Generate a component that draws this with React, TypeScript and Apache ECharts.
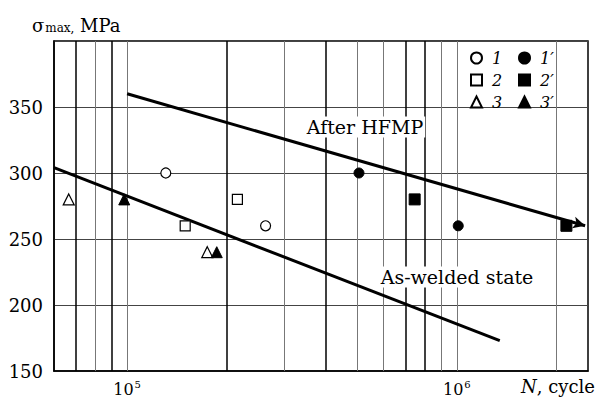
import React, { useEffect, useRef } from "react";
import * as echarts from "echarts";

const FONT = "DejaVu Serif";

// Vertical gridlines (cycles) and their weight (true = heavy black)
const gridCycles = [70000, 80000, 90000, 100000, 200000, 300000, 400000, 500000, 600000, 700000, 800000, 900000, 1000000, 2000000];
const gridHeavy = [true, false, true, false, true, false, true, false, false, true, true, false, false, false];

// Series data: [N cycles, sigma max MPa]
const s1 = [[131000, 300], [263000, 260]];
const s1p = [[505000, 300], [1010000, 260]];
const s2 = [[150000, 260], [216000, 280]];
const s2p = [[745000, 280], [2150000, 260]];
const s3 = [[66500, 280], [175000, 240]];
const s3p = [[98000, 280], [187000, 240]];

// Fitted lines
const hfmpLine = [[100000, 360], [2450000, 260]];
const weldedLine = [[60000, 304], [1350000, 173]];

const yTicks = [150, 200, 250, 300, 350];

export default function App() {
  const ref = useRef<HTMLDivElement>(null);
  useEffect(() => {
    if (!ref.current) return;
    const chart = echarts.init(ref.current, null, { renderer: "svg" });
    const open = { color: "#fff", borderColor: "#000", borderWidth: 1.2, opacity: 1 };
    const filled = { color: "#000", borderColor: "#000", borderWidth: 1, opacity: 1 };
    const legendText = {
      fontFamily: FONT,
      fontStyle: "italic",
      fontSize: 16,
      lineHeight: 14,
      color: "#000",
    };
    const option: any = {
      animation: false,
      backgroundColor: "#fff",
      grid: {
        left: 54,
        top: 41,
        width: 534,
        height: 330,
        show: true,
        borderColor: "#000",
        borderWidth: 1.5,
      },
      xAxis: {
        type: "log",
        logBase: 10,
        min: 60000,
        max: 2500000,
        axisLine: { show: true, lineStyle: { color: "#000", width: 1.5 } },
        axisTick: { show: false },
        splitLine: { show: false },
        minorSplitLine: { show: false },
        axisLabel: {
          margin: 8,
          color: "#000",
          formatter: (v: number) => {
            const e = Math.log10(v);
            if (Math.abs(e - Math.round(e)) > 1e-6) return "";
            return "{b|10}{s|" + Math.round(e) + "}";
          },
          rich: {
            b: { fontFamily: FONT, fontSize: 16, color: "#000", lineHeight: 18, verticalAlign: "bottom" },
            s: { fontFamily: FONT, fontSize: 10, color: "#000", lineHeight: 18, verticalAlign: "top", padding: [0, 0, 0, 1] },
          },
        },
      },
      yAxis: {
        type: "value",
        min: 150,
        max: 400,
        interval: 50,
        axisLine: { show: true, lineStyle: { color: "#000", width: 1.5 } },
        axisTick: { show: false },
        splitLine: { show: true, lineStyle: { color: "#444", width: 1 } },
        axisLabel: {
          margin: 11,
          color: "#000",
          fontFamily: FONT,
          fontSize: 18,
          formatter: (v: number) => (yTicks.includes(v) ? String(v) : ""),
        },
      },
      legend: [
        {
          data: ["1", "2", "3"],
          orient: "vertical",
          left: 465,
          top: 45,
          itemWidth: 11,
          itemHeight: 11,
          itemGap: 6,
          textStyle: legendText,
          formatter: (n: string) => " " + n,
          selectedMode: false,
        },
        {
          data: ["1′", "2′", "3′"],
          orient: "vertical",
          left: 513,
          top: 45,
          itemWidth: 11,
          itemHeight: 11,
          itemGap: 6,
          textStyle: legendText,
          formatter: (n: string) => " " + n,
          selectedMode: false,
        },
      ],
      graphic: [
        {
          type: "text",
          x: 32,
          y: 12,
          style: {
            text: "{a|σ}{b|max,}{a| MPa}",
            rich: {
              a: { fontFamily: FONT, fontSize: 18, fill: "#000", color: "#000", lineHeight: 22, verticalAlign: "bottom" },
              b: { fontFamily: FONT, fontSize: 12, fill: "#000", color: "#000", lineHeight: 22, verticalAlign: "bottom", padding: [0, 0, 0, 1] },
            },
          },
        },
        {
          type: "text",
          x: 365,
          y: 127,
          z: 10,
          style: {
            text: "After HFMP",
            fontFamily: FONT,
            fontSize: 19,
            fill: "#000",
            align: "center",
            verticalAlign: "middle",
            backgroundColor: "#fff",
            padding: [1, 2],
          },
        },
        {
          type: "text",
          x: 457,
          y: 277,
          z: 10,
          style: {
            text: "As-welded state",
            fontFamily: FONT,
            fontSize: 19,
            fill: "#000",
            align: "center",
            verticalAlign: "middle",
            backgroundColor: "#fff",
            padding: [1, 2],
          },
        },
        {
          type: "text",
          x: 521,
          y: 386,
          style: {
            text: "{i|N}{r|, cycle}",
            verticalAlign: "middle",
            rich: {
              i: { fontFamily: FONT, fontStyle: "italic", fontSize: 18, fill: "#000", color: "#000" },
              r: { fontFamily: FONT, fontSize: 18, fill: "#000", color: "#000" },
            },
          },
        },
      ],
      series: [
        {
          type: "line",
          name: "grid",
          data: [],
          z: 1,
          silent: true,
          markLine: {
            silent: true,
            symbol: "none",
            label: { show: false },
            data: gridCycles.map((c, i) => ({
              xAxis: c,
              lineStyle: gridHeavy[i]
                ? { color: "#000", width: 1.5, type: "solid" }
                : { color: "#777", width: 1, type: "solid" },
            })),
          },
        },
        {
          type: "line",
          name: "trend",
          data: [],
          z: 3,
          silent: true,
          markLine: {
            silent: true,
            label: { show: false },
            symbol: "none",
            lineStyle: { color: "#000", width: 3, type: "solid", opacity: 1 },
            data: [
              [
                { coord: hfmpLine[0], symbol: "none" },
                { coord: hfmpLine[1], symbol: "arrow", symbolSize: [9, 12] },
              ],
              [
                { coord: weldedLine[0], symbol: "none" },
                { coord: weldedLine[1], symbol: "none" },
              ],
            ],
          },
        },
        { type: "scatter", name: "1", data: s1, symbol: "circle", symbolSize: 10, itemStyle: open, z: 5 },
        { type: "scatter", name: "2", data: s2, symbol: "rect", symbolSize: 10, itemStyle: open, z: 5 },
        { type: "scatter", name: "3", data: s3, symbol: "triangle", symbolSize: 11, itemStyle: open, z: 5 },
        { type: "scatter", name: "1′", data: s1p, symbol: "circle", symbolSize: 10, itemStyle: filled, z: 5 },
        { type: "scatter", name: "2′", data: s2p, symbol: "rect", symbolSize: 11, itemStyle: filled, z: 5 },
        { type: "scatter", name: "3′", data: s3p, symbol: "triangle", symbolSize: 11, itemStyle: filled, z: 5 },
      ],
    };
    chart.setOption(option);
    return () => chart.dispose();
  }, []);
  return <div ref={ref} style={{ width: 598, height: 397, position: "absolute", left: 0, top: 0 }} />;
}
